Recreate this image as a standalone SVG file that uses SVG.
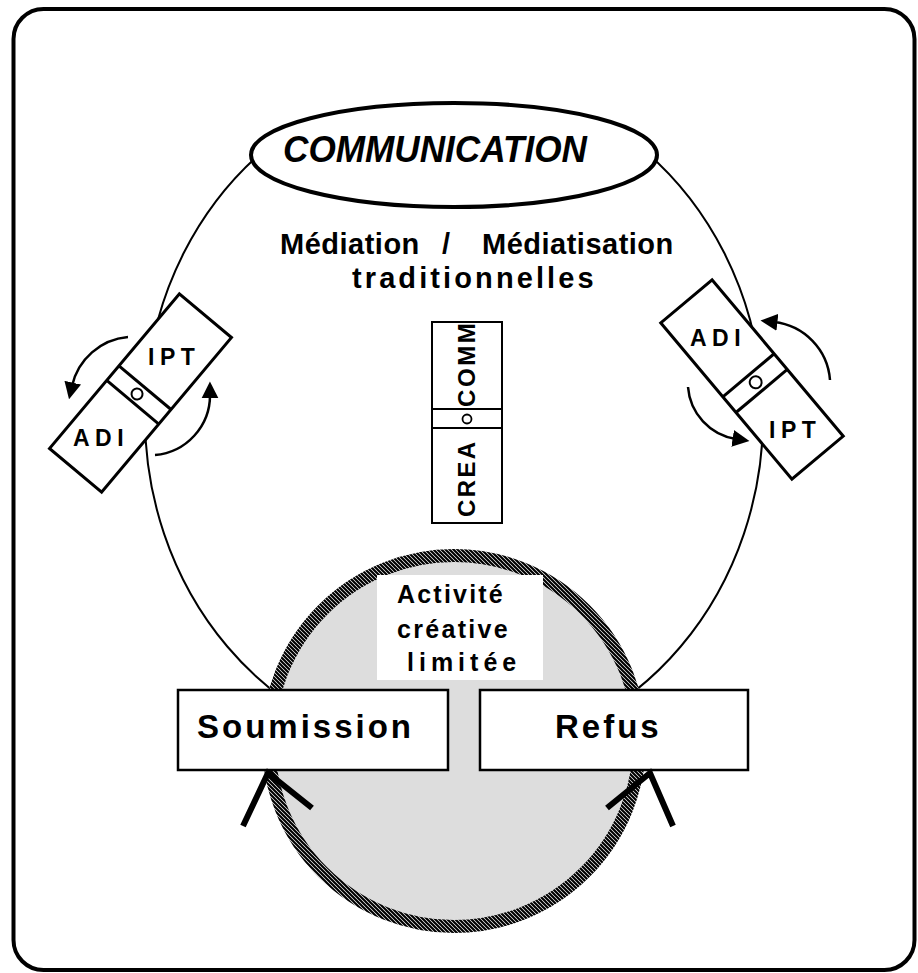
<svg xmlns="http://www.w3.org/2000/svg" width="918" height="973" viewBox="0 0 918 973">
  <defs>
    <pattern id="hatch" patternUnits="userSpaceOnUse" width="4" height="4">
      <rect width="4" height="4" fill="#ffffff"/>
      <path d="M-1,-1 L5,5 M-1,3 L1,5 M3,-1 L5,1" stroke="#000" stroke-width="2.2"/>
    </pattern>
    <marker id="head" viewBox="0 0 10 10" refX="2" refY="5" markerUnits="userSpaceOnUse" markerWidth="17" markerHeight="18" orient="auto">
      <path d="M0,0 L10,5 L0,10 z" fill="#000"/>
    </marker>
  </defs>
  <style>
    .lbl { font-family: "Liberation Sans", Arial, sans-serif; font-weight: bold; fill: #000; }
    .box { fill: #fff; stroke: #000; }
    .thin { fill: none; stroke: #000; stroke-width: 2; }
    .curl { fill: none; stroke: #000; stroke-width: 2.5; marker-end: url(#head); }
    .push { fill: none; stroke: #000; stroke-width: 6; }
  </style>

  <!-- frame -->
  <rect x="13.5" y="9" width="901" height="961" rx="30" fill="#fff" stroke="#000" stroke-width="4"/>

  <!-- large cycle linking the top ellipse to the two outcomes -->
  <g id="connectors">
    <path class="thin" d="M262,152 A309,338 0 1 0 646,152"/>
  </g>

  <!-- limited creative activity zone -->
  <g id="activite">
    <circle cx="454" cy="741" r="185.5" fill="#dddddd" stroke="url(#hatch)" stroke-width="13"/>
    <rect x="377" y="575" width="166" height="105" fill="#fff"/>
    <text class="lbl" font-size="25" letter-spacing="2.2" x="397" y="603">Activité</text>
    <text class="lbl" font-size="25" letter-spacing="2.3" x="397" y="638">créative</text>
    <text class="lbl" font-size="25" letter-spacing="5" x="407" y="671">limitée</text>
  </g>

  <g id="soumission">
    <rect class="box" x="178" y="690" width="270" height="80" stroke-width="2.5"/>
    <text class="lbl" font-size="33" letter-spacing="3" x="197" y="738">Soumission</text>
  </g>

  <g id="refus">
    <rect class="box" x="480" y="690" width="268" height="80" stroke-width="2.5"/>
    <text class="lbl" font-size="33" letter-spacing="3" x="555" y="738">Refus</text>
  </g>

  <g id="communication">
    <ellipse cx="454" cy="155" rx="203" ry="52" fill="#fff" stroke="#000" stroke-width="4"/>
    <text class="lbl" font-size="36" font-style="italic" x="283" y="162" textLength="304" lengthAdjust="spacingAndGlyphs">COMMUNICATION</text>
  </g>

  <g id="mediation">
    <text class="lbl" font-size="29" letter-spacing="0.5" y="254"><tspan x="280">Médiation</tspan><tspan x="442">/</tspan><tspan x="482">Médiatisation</tspan></text>
    <text class="lbl" font-size="29" letter-spacing="3.1" x="352" y="288">traditionnelles</text>
  </g>

  <!-- left switch: IPT / ADI -->
  <g id="switch-left">
    <g transform="translate(140.5,393) rotate(40)">
      <rect class="box" x="-34" y="-101" width="68" height="202" stroke-width="3"/>
      <line x1="-34" y1="-7" x2="34" y2="-7" stroke="#000" stroke-width="3"/>
      <line x1="-34" y1="12" x2="34" y2="12" stroke="#000" stroke-width="3"/>
      <circle cx="-2" cy="3" r="5.5" fill="none" stroke="#000" stroke-width="2"/>
    </g>
    <text class="lbl" font-size="23" letter-spacing="5.5" x="148" y="365">IPT</text>
    <text class="lbl" font-size="23" letter-spacing="5.5" x="73" y="446">ADI</text>
  </g>

  <!-- right switch: ADI / IPT -->
  <g id="switch-right">
    <g transform="translate(752,379.5) rotate(-40)">
      <rect class="box" x="-33.5" y="-102" width="67" height="204" stroke-width="3"/>
      <line x1="-33.5" y1="-5.5" x2="33.5" y2="-5.5" stroke="#000" stroke-width="3"/>
      <line x1="-33.5" y1="15" x2="33.5" y2="15" stroke="#000" stroke-width="3"/>
      <circle cx="1" cy="4.5" r="6" fill="none" stroke="#000" stroke-width="2"/>
    </g>
    <text class="lbl" font-size="23" letter-spacing="5.5" x="690" y="346">ADI</text>
    <text class="lbl" font-size="23" letter-spacing="5.5" x="769" y="438">IPT</text>
  </g>

  <!-- central CREA / COMM gauge -->
  <g id="crea-comm">
    <rect class="box" x="432" y="322" width="70" height="201" stroke-width="2"/>
    <line x1="432" y1="409" x2="502" y2="409" stroke="#000" stroke-width="2"/>
    <line x1="432" y1="428" x2="502" y2="428" stroke="#000" stroke-width="2"/>
    <circle cx="467" cy="419" r="4.5" fill="none" stroke="#000" stroke-width="1.8"/>
    <text class="lbl" font-size="24" letter-spacing="2.6" transform="translate(475,407) rotate(-90)">COMM</text>
    <text class="lbl" font-size="24" letter-spacing="2.4" transform="translate(475,517) rotate(-90)">CREA</text>
  </g>

  <g id="arrows">
    <!-- rotation arrows around the switches -->
    <path class="curl" d="M128,337 A63,63 0 0 0 72,386"/>
    <path class="curl" d="M155,455 A60,60 0 0 0 210,395"/>
    <path class="curl" d="M830,380 A63,63 0 0 0 774,322"/>
    <path class="curl" d="M688,387 A57,57 0 0 0 736,439"/>
    <!-- upward pushes under the outcomes -->
    <path class="push" d="M243,826 L268,773 L312,808"/>
    <path class="push" d="M673,826 L650,773 L607,808"/>
  </g>
</svg>
